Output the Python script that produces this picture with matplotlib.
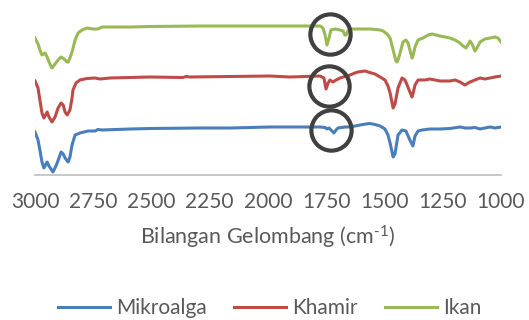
import matplotlib
matplotlib.use("Agg")
import matplotlib.pyplot as plt
from matplotlib.lines import Line2D

plt.rcParams['font.family'] = ['Lato', 'DejaVu Sans']
plt.rcParams['mathtext.fontset'] = 'custom'
plt.rcParams['mathtext.rm'] = 'Lato'
plt.rcParams['mathtext.it'] = 'Lato'

# FTIR spectra (wavenumber in cm-1, offset transmittance in arbitrary units)
ikan_wn = [3000, 2987, 2979, 2970, 2957, 2948, 2936, 2927, 2914, 2901, 2888, 2875,
           2862, 2858, 2850, 2841, 2828, 2815, 2798, 2777, 2751, 2730, 2712, 2592,
           2506, 2292, 2163, 1991, 1863, 1777, 1764, 1755, 1747, 1738, 1730, 1712,
           1691, 1678, 1670, 1665, 1657, 1648, 1605, 1562, 1519, 1506, 1489, 1476,
           1463, 1451, 1446, 1442, 1433, 1421, 1408, 1399, 1391, 1382, 1378, 1369,
           1356, 1335, 1313, 1296, 1279, 1262, 1240, 1219, 1197, 1176, 1163, 1150,
           1142, 1133, 1124, 1112, 1103, 1090, 1069, 1047, 1026, 1013, 1000]
ikan_t = [137, 131, 125, 120, 122, 118, 111, 107, 111, 115, 118, 116,
          113, 113, 117, 123, 135, 142, 145, 147, 146, 146, 148, 148,
          148.5, 149, 149, 149, 149, 149, 147, 140, 130, 137, 145, 146,
          145, 144, 140, 140, 144, 146, 146, 146, 145, 144, 141, 137,
          125, 114, 113, 115, 122, 133, 135, 132, 125, 117, 119, 128,
          135, 137, 140, 141, 140, 139, 138, 137, 135, 132, 129, 127,
          130, 134, 131, 124, 127, 133, 136, 137, 138, 137, 133]

khamir_wn = [3000, 2987, 2979, 2970, 2962, 2957, 2948, 2940, 2927, 2914, 2901, 2888,
             2879, 2871, 2862, 2850, 2841, 2837, 2824, 2807, 2777, 2742, 2721, 2678,
             2506, 2365, 2352, 2335, 2163, 1991, 1906, 1777, 1760, 1751, 1742, 1734,
             1721, 1708, 1691, 1648, 1627, 1614, 1584, 1571, 1541, 1519, 1498, 1485,
             1476, 1463, 1455, 1442, 1425, 1412, 1403, 1391, 1382, 1378, 1369, 1356,
             1326, 1305, 1283, 1262, 1219, 1197, 1176, 1155, 1133, 1112, 1090, 1069,
             1047, 1026, 1000]
khamir_t = [94, 87, 75, 62, 57, 59, 63, 58, 53, 58, 67, 72,
            70, 63, 60, 65, 77, 85, 92, 95, 96.5, 97, 96, 97,
            98, 97.5, 98.5, 98, 98.5, 99, 98, 99, 97, 86, 92, 95,
            93, 95, 97, 100, 102, 103, 104, 103, 101, 98, 95, 89,
            82, 67, 71, 87, 97, 95, 90, 83, 78, 81, 90, 95,
            95, 96, 95, 94, 94, 95, 93, 90, 93, 95, 97, 96,
            97, 98, 99]

mikroalga_wn = [3000, 2987, 2979, 2970, 2962, 2948, 2940, 2923, 2910, 2897, 2888, 2879,
                2871, 2858, 2850, 2841, 2828, 2807, 2772, 2742, 2730, 2712, 2592, 2506,
                2292, 2163, 1991, 1906, 1777, 1755, 1747, 1738, 1730, 1717, 1708, 1700,
                1670, 1648, 1627, 1605, 1580, 1562, 1541, 1519, 1498, 1485, 1476, 1463,
                1455, 1442, 1425, 1408, 1391, 1378, 1369, 1356, 1339, 1305, 1262, 1219,
                1176, 1155, 1133, 1112, 1090, 1069, 1047, 1026, 1000]
mikroalga_t = [43, 35, 25, 13, 7, 13, 9, 3, 9, 17, 23, 21,
               17, 13, 18, 30, 40, 42, 44, 44, 45.5, 45, 46, 46.5,
               47, 47, 48, 48, 48, 47.5, 46, 47, 45, 42, 45, 47,
               48, 48, 49, 50, 51, 51.5, 50.5, 49, 46, 40, 32, 18,
               21, 40, 45, 44, 35, 29, 39, 44, 45, 46, 46, 46.5,
               48, 47, 47, 47.5, 46, 47, 48, 47, 48]

# Highlighted C=O band around 1735 cm-1
circle_wn = [1734, 1740, 1730]
circle_t = [141.5, 89.5, 45]

series_names = ['Mikroalga', 'Khamir', 'Ikan']
series_colors = ['#4A7EBB', '#BE4B48', '#98B954']
x_ticks = [3000, 2750, 2500, 2250, 2000, 1750, 1500, 1250, 1000]
text_color = '#595959'

fig = plt.figure(figsize=(5.29, 3.20), dpi=100)
ax = fig.add_axes([35 / 529, 145 / 320, 466 / 529, 175 / 320])

ax.plot(mikroalga_wn, mikroalga_t, color=series_colors[0], lw=2.2,
        solid_joinstyle='round', label=series_names[0])
ax.plot(khamir_wn, khamir_t, color=series_colors[1], lw=2.2,
        solid_joinstyle='round', label=series_names[1])
ax.plot(ikan_wn, ikan_t, color=series_colors[2], lw=2.2,
        solid_joinstyle='round', label=series_names[2])

ax.plot(circle_wn, circle_t, linestyle='none', marker='o', markersize=29,
        markerfacecolor='none', markeredgecolor='#404040', markeredgewidth=3.0,
        clip_on=False, zorder=5)

ax.set_xlim(3000, 1000)
ax.set_ylim(0, 175)
ax.set_xticks(x_ticks)
ax.set_xticklabels([str(v) for v in x_ticks])
ax.set_yticks([])
ax.tick_params(axis='x', length=0, pad=12, labelsize=15, labelcolor=text_color)
for side in ['top', 'left', 'right']:
    ax.spines[side].set_visible(False)
ax.spines['bottom'].set_color('#BFBFBF')
ax.spines['bottom'].set_linewidth(1.2)

ax.set_xlabel(r'Bilangan Gelombang (cm$^{\text{-}1}$)', fontsize=15.5,
              color=text_color, labelpad=9)

handles = [Line2D([], [], color=c, lw=2.2) for c in series_colors]
fig.legend(handles, series_names, loc='center', bbox_to_anchor=(0.51, 12 / 320),
           ncol=3, frameon=False, fontsize=15, labelcolor=text_color,
           handlelength=2.5, handletextpad=0.3, columnspacing=1.3)

fig.savefig('out.png', dpi=100)
